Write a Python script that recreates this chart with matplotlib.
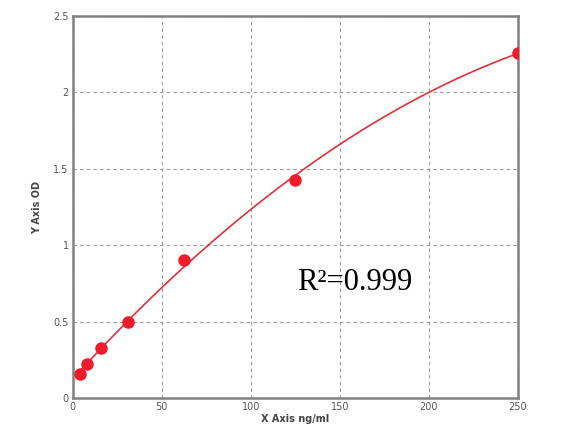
import numpy as np
import matplotlib.pyplot as plt

# standard curve points
conc = [3.9, 7.8, 15.6, 31.25, 62.5, 125, 250]
od = [0.16, 0.22, 0.33, 0.50, 0.90, 1.43, 2.26]

x_ticks = [0, 50, 100, 150, 200, 250]
y_ticks = [0, 0.5, 1, 1.5, 2, 2.5]
y_tick_labels = ["0", "0.5", "1", "1.5", "2", "2.5"]

# smooth fitted curve
coef = np.polyfit(conc, od, 2)
xs = np.linspace(2, max(conc), 300)
ys = np.polyval(coef, xs)

fig = plt.figure(figsize=(5.73, 4.34), dpi=100)
ax = fig.add_axes([0.127, 0.083, 0.777, 0.88])

ax.plot(xs, ys, color="#e0303a", lw=1.2, zorder=3)
ax.plot(conc, od, "o", color="#ee1c2a", markersize=8, zorder=4)

ax.set_xlim(0, 250)
ax.set_ylim(0, 2.5)
ax.set_xticks(x_ticks)
ax.set_yticks(y_ticks)
ax.set_yticklabels(y_tick_labels)
ax.tick_params(labelsize=7, colors="#555555", length=0, pad=3)
ax.grid(True, color="#999999", linestyle=(0, (3, 3)), lw=0.8)

for s in ax.spines.values():
    s.set_color("#808080")
    s.set_linewidth(1.8)

ax.set_xlabel("X Axis ng/ml", fontsize=7, fontweight="bold", color="#444444", labelpad=1)
ax.set_ylabel("Y Axis OD", fontsize=7, fontweight="bold", color="#444444", labelpad=8)

ax.text(126, 0.71, "R\u00b2=0.999", fontsize=22, family="Liberation Serif", color="black")

fig.savefig("out.png", dpi=100)
